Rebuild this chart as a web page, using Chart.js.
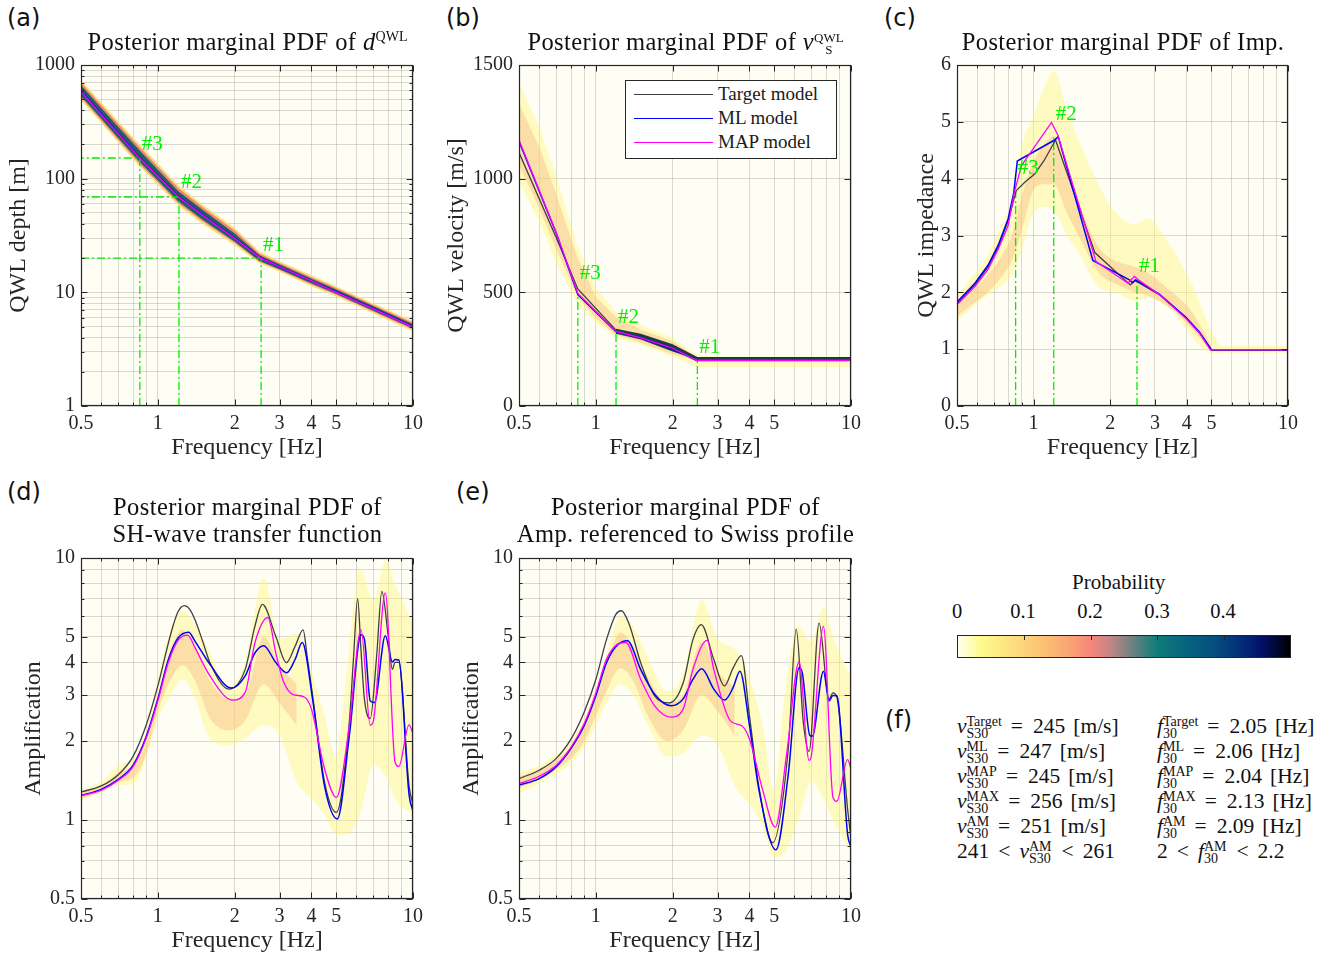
<!DOCTYPE html>
<html>
<head>
<meta charset="utf-8">
<script src="https://cdn.jsdelivr.net/npm/chart.js@4.4.1/dist/chart.umd.min.js"></script>
<style>
  body { margin: 0; width: 1336px; height: 959px; position: relative; overflow: hidden; background: #fff;
         font-family: 'Liberation Serif', serif; color: #1a1a1a; }
  canvas { position: absolute; }
  .lab { position: absolute; font: 24px 'DejaVu Sans', sans-serif; color: #111; line-height: 28px; }
  .ttl { position: absolute; font-size: 24.5px; letter-spacing: 0.4px; text-align: center; white-space: nowrap; line-height: 27px; color: #111; }
  .ttl sup { font-size: 14px; letter-spacing: 0; line-height: 0; }
  .st { display: inline-flex; flex-direction: column; font-size: 13px; line-height: 12px; vertical-align: middle; letter-spacing: 0; }
  .leg { position: absolute; left: 625px; top: 80px; width: 210px; height: 77px; border: 1px solid #262626; background: #fff; }
  .leg div { position: absolute; font-size: 19px; line-height: 24px; white-space: nowrap; }
  .leg span { position: absolute; left: 8px; width: 79px; height: 1.4px; }
  .ft { position: absolute; font-size: 21.5px; line-height: 25px; white-space: nowrap; color: #111; }
  .ft .st { font-size: 14px; line-height: 12px; margin-right: 1px; }
  .ft .eq { margin: 0 10px 0 8px; }
  .ft .lt { margin: 0 9px; }
  .ft .u { margin-left: 8px; }
  .cb { position: absolute; left: 957px; top: 635px; width: 332px; height: 21px; border: 1px solid #262626;
        background: linear-gradient(to right, #fffff0 0%, #fdfb8c 7%, #fde07f 16%, #fbc073 26%, #f9a273 34%, #f7857b 40%,
        #c48587 46%, #8c8484 50%, #3e807d 56%, #0e7c7a 60%, #07667e 68%, #054c7e 78%, #032a78 86%, #020e64 92%, #000 100%); }
  .cbt { position: absolute; top: 0; width: 1px; height: 4px; background: #262626; }
  .cbl { position: absolute; top: 599px; font-size: 20.5px; line-height: 24px; width: 40px; text-align: center; color: #111; }
</style>
</head>
<body>

<canvas id="pa" width="429" height="419" style="left:0px;top:47px"></canvas>
<canvas id="pb" width="429" height="419" style="left:438px;top:47px"></canvas>
<canvas id="pc" width="396" height="419" style="left:908px;top:47px"></canvas>
<canvas id="pd" width="414" height="419" style="left:15px;top:540px"></canvas>
<canvas id="pe" width="414" height="419" style="left:453px;top:540px"></canvas>

<div class="lab" style="left:7px;top:4px">(a)</div>
<div class="lab" style="left:446px;top:4px">(b)</div>
<div class="lab" style="left:884px;top:4px">(c)</div>
<div class="lab" style="left:7px;top:478px">(d)</div>
<div class="lab" style="left:456px;top:478px">(e)</div>
<div class="lab" style="left:885px;top:706px">(f)</div>

<div class="ttl" style="left:61px;width:373px;top:28px">Posterior marginal PDF of <i>d</i><sup>QWL</sup></div>
<div class="ttl" style="left:499px;width:373px;top:28px">Posterior marginal PDF of <i>v</i><span class="st"><span>QWL</span><span>S</span></span></div>
<div class="ttl" style="left:937px;width:372px;top:28px">Posterior marginal PDF of Imp.</div>
<div class="ttl" style="left:61px;width:373px;top:493px">Posterior marginal PDF of<br>SH-wave transfer function</div>
<div class="ttl" style="left:499px;width:373px;top:493px">Posterior marginal PDF of<br>Amp. referenced to Swiss profile</div>

<div class="leg">
  <span style="top:13px;background:#404040"></span><div style="left:92px;top:1px">Target model</div>
  <span style="top:37px;background:#0000ff"></span><div style="left:92px;top:25px">ML model</div>
  <span style="top:61px;background:#ff00ff"></span><div style="left:92px;top:49px">MAP model</div>
</div>

<div class="ft" style="left:1072px;top:570px;font-size:21px">Probability</div>
<div class="cbl" style="left:937px">0</div>
<div class="cbl" style="left:1003px">0.1</div>
<div class="cbl" style="left:1070px">0.2</div>
<div class="cbl" style="left:1137px">0.3</div>
<div class="cbl" style="left:1203px">0.4</div>
<div class="cb">
  <div class="cbt" style="left:66px"></div>
  <div class="cbt" style="left:133px"></div>
  <div class="cbt" style="left:199px"></div>
  <div class="cbt" style="left:266px"></div>
</div>

<div class="ft" style="left:957px;top:714px"><i>v</i><span class="st"><span>Target</span><span>S30</span></span><span class="eq">=</span>245<span class="u">[m/s]</span></div>
<div class="ft" style="left:957px;top:739px"><i>v</i><span class="st"><span>ML</span><span>S30</span></span><span class="eq">=</span>247<span class="u">[m/s]</span></div>
<div class="ft" style="left:957px;top:764px"><i>v</i><span class="st"><span>MAP</span><span>S30</span></span><span class="eq">=</span>245<span class="u">[m/s]</span></div>
<div class="ft" style="left:957px;top:789px"><i>v</i><span class="st"><span>MAX</span><span>S30</span></span><span class="eq">=</span>256<span class="u">[m/s]</span></div>
<div class="ft" style="left:957px;top:814px"><i>v</i><span class="st"><span>AM</span><span>S30</span></span><span class="eq">=</span>251<span class="u">[m/s]</span></div>
<div class="ft" style="left:957px;top:839px">241<span class="lt">&lt;</span><i>v</i><span class="st"><span>AM</span><span>S30</span></span><span class="lt">&lt;</span>261</div>
<div class="ft" style="left:1157px;top:714px"><i>f</i><span class="st"><span>Target</span><span>30</span></span><span class="eq">=</span>2.05<span class="u">[Hz]</span></div>
<div class="ft" style="left:1157px;top:739px"><i>f</i><span class="st"><span>ML</span><span>30</span></span><span class="eq">=</span>2.06<span class="u">[Hz]</span></div>
<div class="ft" style="left:1157px;top:764px"><i>f</i><span class="st"><span>MAP</span><span>30</span></span><span class="eq">=</span>2.04<span class="u">[Hz]</span></div>
<div class="ft" style="left:1157px;top:789px"><i>f</i><span class="st"><span>MAX</span><span>30</span></span><span class="eq">=</span>2.13<span class="u">[Hz]</span></div>
<div class="ft" style="left:1157px;top:814px"><i>f</i><span class="st"><span>AM</span><span>30</span></span><span class="eq">=</span>2.09<span class="u">[Hz]</span></div>
<div class="ft" style="left:1157px;top:839px">2<span class="lt">&lt;</span><i>f</i><span class="st"><span>AM</span><span>30</span></span><span class="lt">&lt;</span>2.2</div>

<script>
// ---- axis ticks ----
const freqTicks = [0.5, 0.6, 0.7, 0.8, 0.9, 1, 2, 3, 4, 5, 6, 7, 8, 9, 10];
const freqLabels = [0.5, 1, 2, 3, 4, 5, 10];
const depthTicks = [1, 2, 3, 4, 5, 6, 7, 8, 9, 10, 20, 30, 40, 50, 60, 70, 80, 90,
                    100, 200, 300, 400, 500, 600, 700, 800, 900, 1000];
const depthLabels = [1, 10, 100, 1000];
const ampTicks = [0.5, 0.6, 0.7, 0.8, 0.9, 1, 2, 3, 4, 5, 6, 7, 8, 9, 10];
const ampLabels = [0.5, 1, 2, 3, 4, 5, 10];

// ---- (a) QWL depth ----
const aFreq   = [0.5, 0.6, 0.7, 0.85, 1.0, 1.21, 1.5, 2.0, 2.54, 3, 4, 5, 7, 10];
const aTarget = [600, 375, 254, 154, 107, 70, 48.5, 30.2, 20.2, 16.9, 12.7, 10.1, 7.2, 5.0];
const aML     = [590, 370, 250, 152, 106, 69, 48, 30, 20, 16.8, 12.6, 10.1, 7.2, 5.0];
const aMAP    = [585, 366, 248, 151, 105, 68.5, 47.7, 29.8, 19.9, 16.8, 12.6, 10.0, 7.15, 4.95];
const aBandF  = [0.5, 0.6, 0.7, 0.85, 1.0, 1.2, 1.5, 2.0, 2.5, 3, 4, 5, 7, 10];
const aOutHi  = [740, 470, 320, 200, 136, 88, 59, 37, 23, 18.8, 14.1, 11.3, 8.0, 5.6];
const aOutLo  = [490, 310, 208, 127, 88, 58, 40, 26, 18, 15.2, 11.3, 9.2, 6.5, 4.55];
const aMidHi  = [700, 445, 303, 188, 128, 83, 56, 35, 22, 18.1, 13.6, 10.9, 7.75, 5.4];
const aMidLo  = [515, 325, 219, 134, 93, 61, 42, 27.3, 18.6, 15.7, 11.7, 9.5, 6.75, 4.7];
const aCoreHi = [665, 418, 285, 176, 120, 78, 53, 33, 21.2, 17.6, 13.2, 10.6, 7.55, 5.25];
const aCoreLo = [535, 338, 228, 140, 97, 63.5, 43.5, 28, 19, 16.0, 12.0, 9.7, 6.9, 4.8];
const aMarkF  = [0.85, 1.21, 2.54];
const aMarkD  = [152, 69, 20];

// ---- (b) QWL velocity ----
const bFreq   = [0.5, 0.7, 0.85, 1.2, 1.5, 2.0, 2.48, 10];
const bTarget = [1115, 740, 515, 333, 302, 255, 200, 200];
const bML     = [1165, 760, 490, 326, 300, 252, 201, 201];
const bMAP    = [1170, 762, 495, 328, 300, 254, 201, 201];
const bBandF  = [0.5, 0.6, 0.7, 0.85, 1.0, 1.2, 1.5, 2.0, 2.5, 3, 5, 10];
const bYelHi  = [1420, 1230, 1010, 700, 520, 415, 355, 300, 225, 218, 218, 218];
const bYelLo  = [990, 810, 630, 445, 365, 300, 268, 218, 170, 170, 170, 170];
const bSalHi  = [1330, 1140, 930, 650, 480, 390, 335, 285, 214, 212, 212, 212];
const bSalLo  = [1060, 870, 690, 480, 385, 312, 278, 228, 198, 198, 198, 198];
const bCoreF  = [1.2, 1.5, 2.0, 2.5, 3, 10];
const bCoreHi = [340, 318, 272, 216, 216, 216];
const bCoreLo = [318, 292, 240, 203, 203, 203];
const bMarkF  = [0.85, 1.2, 2.5];
const bMarkV  = [495, 328, 200];

// ---- (c) QWL impedance ----
const cTargetF = [0.5, 0.588, 0.663, 0.726, 0.794, 0.855, 0.93, 1.01, 1.1, 1.22, 1.74, 2.40, 2.50, 3.12, 3.97, 4.49, 5.0, 10];
const cTarget  = [1.80, 2.13, 2.45, 2.80, 3.26, 3.79, 3.95, 4.08, 4.32, 4.68, 2.70, 2.13, 2.21, 1.96, 1.55, 1.29, 0.98, 0.98];
const cMLF     = [0.5, 0.588, 0.663, 0.726, 0.794, 0.836, 0.863, 1.21, 1.25, 1.71, 1.85, 2.38, 2.45, 2.52, 3.12, 3.97, 4.49, 5.0, 10];
const cML      = [1.83, 2.16, 2.48, 2.83, 3.29, 3.76, 4.31, 4.68, 4.74, 2.56, 2.48, 2.22, 2.17, 2.22, 1.97, 1.56, 1.30, 0.99, 0.99];
const cMAPF    = [0.5, 0.588, 0.663, 0.726, 0.794, 0.84, 0.896, 1.176, 1.245, 1.76, 2.35, 2.49, 2.58, 3.12, 3.97, 4.49, 4.95, 10];
const cMAP     = [1.78, 2.10, 2.41, 2.76, 3.17, 3.76, 4.23, 4.99, 4.77, 2.54, 2.16, 2.28, 2.22, 1.96, 1.54, 1.28, 0.99, 0.99];
const cBandF   = [0.5, 0.58, 0.66, 0.74, 0.82, 0.9, 1.0, 1.1, 1.2, 1.35, 1.5, 1.8, 2.1, 2.5, 2.8, 3.5, 4.2, 5.0, 5.5, 10];
const cYelHi   = [1.95, 2.3, 2.65, 3.15, 3.6, 4.6, 5.1, 5.6, 5.9, 5.2, 4.7, 3.9, 3.4, 3.2, 3.3, 2.77, 2.14, 1.32, 1.06, 1.06];
const cYelLo   = [1.5, 1.75, 1.95, 2.1, 2.3, 2.75, 3.4, 3.5, 3.45, 3.0, 2.7, 2.1, 2.0, 1.85, 1.9, 1.67, 1.21, 0.93, 0.93, 0.93];
const cSalF    = [0.5, 0.58, 0.66, 0.74, 0.82, 0.9, 1.0, 1.1, 1.2, 1.35, 1.5, 1.8, 2.1, 2.5, 2.8, 3.5, 4.2, 5.0];
const cSalHi   = [1.82, 2.05, 2.3, 2.6, 3.0, 3.7, 4.3, 4.6, 4.75, 4.2, 3.6, 2.8, 2.55, 2.45, 2.35, 2.0, 1.65, 1.05];
const cSalLo   = [1.58, 1.8, 2.0, 2.25, 2.55, 3.1, 3.8, 3.9, 3.9, 3.4, 3.0, 2.35, 2.15, 2.0, 1.95, 1.7, 1.35, 0.97];
const cMarkF   = [0.85, 1.2, 2.55];
const cMarkI   = [3.78, 4.72, 2.22];

// ---- (d) SH-wave transfer function ----
const dTargetF = [0.5, 0.6, 0.7, 0.8, 0.9, 1.0, 1.1, 1.15, 1.2, 1.27, 1.33, 1.4, 1.5, 1.6, 1.9, 2.2, 2.4, 2.57, 2.9, 3.19, 3.45, 3.71, 3.85, 4.04, 4.5, 5.01, 5.63, 5.85, 6.07, 6.25, 6.45, 6.8, 7.2, 7.55, 8.0, 8.3, 8.5, 8.8, 9.65, 10];
const dTarget  = [1.28, 1.35, 1.49, 1.75, 2.30, 3.25, 4.74, 5.55, 6.24, 6.58, 6.4, 5.8, 4.8, 3.99, 3.16, 3.76, 5.48, 6.65, 5.02, 3.99, 4.6, 5.32, 4.2, 2.99, 1.40, 1.07, 2.37, 4.2, 7.0, 4.5, 2.9, 2.44, 4.2, 7.46, 5.0, 3.76, 4.0, 4.0, 1.35, 1.15];
const dMLF     = [0.5, 0.6, 0.7, 0.8, 0.9, 1.0, 1.1, 1.2, 1.32, 1.4, 1.6, 1.94, 2.2, 2.4, 2.6, 2.9, 3.2, 3.45, 3.68, 4.04, 4.5, 5.05, 5.63, 6.26, 6.45, 6.8, 7.06, 7.79, 8.3, 8.5, 8.8, 9.65, 10];
const dML      = [1.24, 1.31, 1.43, 1.62, 2.08, 2.9, 4.10, 4.95, 5.21, 4.81, 3.93, 3.19, 3.55, 4.34, 4.63, 3.99, 3.65, 4.1, 4.76, 2.9, 1.35, 1.01, 2.1, 5.09, 4.9, 2.85, 2.81, 5.05, 4.01, 4.1, 4.08, 1.25, 1.08];
const dMAPF    = [0.5, 0.6, 0.7, 0.8, 0.9, 1.0, 1.1, 1.2, 1.31, 1.4, 1.6, 1.96, 2.2, 2.4, 2.7, 2.9, 3.1, 3.37, 3.75, 4.0, 4.5, 5.01, 5.6, 6.26, 6.8, 7.0, 7.79, 8.5, 8.8, 9.65, 10];
const dMAP     = [1.24, 1.30, 1.42, 1.60, 2.05, 2.85, 4.0, 4.85, 5.08, 4.54, 3.55, 2.87, 3.07, 4.74, 5.93, 4.34, 3.4, 3.02, 2.95, 2.65, 1.57, 1.22, 2.2, 5.32, 2.30, 2.40, 7.36, 1.67, 1.60, 2.31, 2.14];
const ampBandF = [0.5, 0.6, 0.7, 0.8, 0.9, 1.0, 1.1, 1.25, 1.4, 1.6, 1.9, 2.2, 2.6, 3.0, 3.5, 4.0, 4.5, 5.0, 5.5, 6.2, 7.0, 7.8, 8.5, 10];
const dYelHi   = [1.31, 1.40, 1.62, 1.72, 2.2, 3.44, 5.0, 6.3, 5.6, 4.34, 3.26, 3.99, 8.4, 4.88, 5.16, 3.75, 2.5, 1.72, 3.75, 9.2, 6.9, 9.8, 8.0, 5.6];
const dYelLo   = [1.19, 1.27, 1.36, 1.37, 1.72, 2.43, 2.9, 3.44, 2.9, 2.05, 1.93, 2.05, 2.3, 2.11, 1.40, 1.21, 1.05, 0.88, 0.88, 1.05, 1.62, 1.48, 1.21, 1.05];
const ampSalF  = [0.5, 0.6, 0.7, 0.8, 0.9, 1.0, 1.1, 1.25, 1.4, 1.6, 1.9, 2.2, 2.6, 3.0, 3.5];
const dSalHi   = [1.28, 1.35, 1.52, 1.62, 1.95, 2.9, 4.2, 5.3, 4.6, 3.4, 2.9, 3.0, 5.0, 3.9, 3.3];
const dSalLo   = [1.21, 1.28, 1.4, 1.45, 1.78, 2.6, 3.3, 3.9, 3.4, 2.45, 2.2, 2.4, 3.3, 2.8, 2.3];

// ---- (e) amplification referenced to Swiss profile ----
const eTargetF = [0.5, 0.6, 0.7, 0.8, 0.9, 1.0, 1.1, 1.2, 1.26, 1.35, 1.5, 1.7, 1.94, 2.2, 2.4, 2.59, 2.9, 3.19, 3.45, 3.72, 4.0, 4.36, 4.93, 5.68, 6.1, 6.5, 6.85, 7.5, 8.2, 8.5, 8.8, 9.7, 10];
const eTarget  = [1.44, 1.55, 1.72, 2.04, 2.58, 3.44, 4.87, 6.11, 6.29, 5.6, 3.98, 2.98, 2.80, 3.34, 4.87, 5.57, 4.10, 3.25, 3.8, 4.24, 2.5, 1.33, 0.82, 1.88, 5.35, 2.37, 1.83, 5.64, 2.89, 3.06, 2.95, 1.1, 0.85];
const eMLF     = [0.5, 0.6, 0.7, 0.8, 0.9, 1.0, 1.1, 1.2, 1.33, 1.5, 1.7, 1.97, 2.2, 2.4, 2.6, 2.9, 3.2, 3.45, 3.67, 4.0, 4.36, 5.08, 5.68, 6.26, 6.45, 6.9, 7.05, 7.8, 8.2, 8.5, 8.8, 9.7, 10];
const eML      = [1.36, 1.44, 1.60, 1.88, 2.29, 2.98, 3.98, 4.6, 4.83, 3.75, 3.02, 2.73, 2.90, 3.44, 3.78, 3.16, 2.87, 3.2, 3.70, 2.3, 1.3, 0.77, 1.5, 3.81, 3.63, 2.10, 2.09, 3.70, 2.85, 2.99, 2.98, 0.88, 0.79];
const eMAPF    = [0.5, 0.6, 0.7, 0.8, 0.9, 1.0, 1.1, 1.2, 1.31, 1.5, 1.7, 1.97, 2.2, 2.4, 2.73, 2.9, 3.37, 3.73, 4.0, 4.5, 5.05, 5.6, 6.26, 6.85, 7.0, 7.8, 8.5, 8.8, 9.7, 10];
const eMAP     = [1.38, 1.47, 1.62, 1.90, 2.33, 3.05, 4.10, 4.65, 4.76, 3.44, 2.73, 2.47, 2.65, 3.75, 4.85, 3.75, 2.39, 2.29, 2.04, 1.31, 0.94, 1.8, 4.01, 1.69, 1.77, 5.48, 1.22, 1.18, 1.70, 1.57];
const eYelHi   = [1.52, 1.62, 1.78, 2.0, 2.45, 3.2, 4.3, 6.0, 5.5, 4.2, 3.1, 3.6, 6.9, 4.9, 4.5, 3.5, 2.3, 1.3, 3.0, 5.5, 4.8, 6.5, 5.0, 3.5];
const eYelLo   = [1.26, 1.38, 1.5, 1.65, 1.9, 2.3, 2.8, 3.3, 3.0, 2.3, 1.75, 1.8, 2.1, 1.95, 1.35, 1.15, 0.95, 0.72, 0.75, 1.0, 1.4, 1.2, 1.0, 0.75];
const eSalHi   = [1.47, 1.56, 1.7, 1.9, 2.3, 3.0, 3.9, 5.2, 4.6, 3.5, 2.8, 3.0, 4.8, 3.7, 3.2];
const eSalLo   = [1.32, 1.43, 1.56, 1.72, 2.0, 2.5, 3.1, 3.8, 3.4, 2.5, 2.0, 2.2, 3.0, 2.6, 2.1];

// ---- styling ----
const FONT = "'Liberation Serif', serif";
const INK = '#262626';
const GRID = 'rgba(0,0,0,0.14)';
const BG = '#fffef4';
const LIME = '#00ee00';
const C_TARGET = '#404040', C_ML = '#0000ff', C_MAP = '#ff00ff';
const YEL = 'rgba(255,245,120,0.42)';
const SAL = 'rgba(247,175,125,0.38)';

const pts = (xs, ys) => xs.map((x, i) => ({x: x, y: ys[i]}));

function band(xs, hi, lo, color, order, smooth) {
  const mode = smooth ? 'monotone' : 'default';
  return [
    {data: pts(xs, hi), fill: '+1', backgroundColor: color, borderWidth: 0, pointRadius: 0, order: order, cubicInterpolationMode: mode},
    {data: pts(xs, lo), fill: false, borderWidth: 0, pointRadius: 0, order: order, cubicInterpolationMode: mode}
  ];
}
function line(xs, ys, color, w, order, smooth) {
  return {data: pts(xs, ys), borderColor: color, borderWidth: w, pointRadius: 0, fill: false,
          tension: 0, cubicInterpolationMode: smooth ? 'monotone' : 'default', order: order};
}
function guides(xs, ys, yBase, xLeft) {
  const d = [];
  xs.forEach((x, i) => {
    d.push({x: x, y: yBase}, {x: x, y: ys[i]});
    if (xLeft !== null) d.push({x: xLeft, y: ys[i]});
    d.push({x: x, y: null});
  });
  return {data: d, borderColor: LIME, borderWidth: 1.3, borderDash: [8, 3, 2, 3], pointRadius: 0,
          fill: false, spanGaps: false, order: 4};
}
function models(tf, t, mf, m, pf, p, smooth) {
  return [line(tf, t, C_TARGET, 1.3, 3, smooth), line(mf, m, C_ML, 1.5, 2, smooth), line(pf, p, C_MAP, 1.3, 1, smooth)];
}

const framePlugin = {
  id: 'frame',
  beforeDraw(chart) {
    const {ctx, chartArea: a} = chart;
    ctx.save();
    ctx.fillStyle = BG;
    ctx.fillRect(a.left, a.top, a.right - a.left, a.bottom - a.top);
    ctx.restore();
  },
  afterDraw(chart) {
    const {ctx, chartArea: a, scales} = chart;
    const L = Math.round(a.left) + 0.5, R = Math.round(a.right) - 0.5;
    const T = Math.round(a.top) + 0.5, B = Math.round(a.bottom) - 0.5;
    ctx.save();
    ctx.strokeStyle = INK;
    ctx.lineWidth = 1;
    ctx.beginPath();
    scales.x.ticks.forEach(t => {
      const p = Math.round(scales.x.getPixelForValue(t.value)) + 0.5;
      const len = t.label ? 6 : 3;
      ctx.moveTo(p, B); ctx.lineTo(p, B - len);
      ctx.moveTo(p, T); ctx.lineTo(p, T + len);
    });
    scales.y.ticks.forEach(t => {
      const p = Math.round(scales.y.getPixelForValue(t.value)) + 0.5;
      const len = t.label ? 6 : 3;
      ctx.moveTo(L, p); ctx.lineTo(L + len, p);
      ctx.moveTo(R, p); ctx.lineTo(R - len, p);
    });
    ctx.stroke();
    ctx.lineWidth = 1.2;
    ctx.strokeRect(L, T, R - L, B - T);
    ctx.restore();
  }
};

const marksPlugin = {
  id: 'marks',
  afterDatasetsDraw(chart, args, o) {
    if (!o || !o.xs) return;
    const {ctx, scales: {x, y}} = chart;
    ctx.save();
    ctx.fillStyle = LIME;
    ctx.font = '21px ' + FONT;
    ctx.textBaseline = 'middle';
    o.xs.forEach((v, i) => {
      ctx.fillText(o.names[i], x.getPixelForValue(v) + 2, y.getPixelForValue(o.ys[i]) + o.dy[i]);
    });
    ctx.restore();
  }
};

function axisTitle(text) {
  return {display: true, text: text, color: INK, font: {family: FONT, size: 24}, padding: {top: 4, bottom: 4}};
}
function logAxis(min, max, list, labels, title, yW) {
  return {
    type: 'logarithmic', min: min, max: max, z: 1,
    afterBuildTicks: s => { s.ticks = list.map(v => ({value: v})); },
    afterFit: s => { s.width = yW; },
    ticks: {autoSkip: false, padding: 6, color: INK, font: {family: FONT, size: 20},
            callback: v => labels.includes(v) ? String(v) : ''},
    grid: {color: GRID, drawTicks: false}, border: {display: false},
    title: axisTitle(title)
  };
}
function linAxis(min, max, step, title, yW) {
  return {
    type: 'linear', min: min, max: max, z: 1,
    afterFit: s => { s.width = yW; },
    ticks: {stepSize: step, padding: 6, color: INK, font: {family: FONT, size: 20}, callback: v => String(v)},
    grid: {color: GRID, drawTicks: false}, border: {display: false},
    title: axisTitle(title)
  };
}

function makeChart(id, datasets, yAxis, marks) {
  return new Chart(document.getElementById(id), {
    type: 'line',
    data: {datasets: datasets},
    options: {
      responsive: false, animation: false, events: [],
      layout: {padding: {left: 0, top: 14, right: 15, bottom: 0}},
      plugins: {legend: {display: false}, tooltip: {enabled: false}, marks: marks || {}},
      scales: {
        x: {
          type: 'logarithmic', min: 0.5, max: 10, z: 1,
          afterBuildTicks: s => { s.ticks = freqTicks.map(v => ({value: v})); },
          afterFit: s => { s.height = 60; },
          ticks: {autoSkip: false, maxRotation: 0, padding: 6, color: INK, font: {family: FONT, size: 20},
                  callback: v => freqLabels.includes(v) ? String(v) : ''},
          grid: {color: GRID, drawTicks: false}, border: {display: false},
          title: axisTitle('Frequency [Hz]')
        },
        y: yAxis
      }
    },
    plugins: [framePlugin, marksPlugin]
  });
}

const names = ['#3', '#2', '#1'];

makeChart('pa', [
  ...band(aBandF, aOutHi, aOutLo, '#fde07c', 30),
  ...band(aBandF, aMidHi, aMidLo, '#ec8677', 20),
  ...band(aBandF, aCoreHi, aCoreLo, '#1c5f68', 10),
  guides(aMarkF, aMarkD, 1, 0.5),
  ...models(aFreq, aTarget, aFreq, aML, aFreq, aMAP)
], logAxis(1, 1000, depthTicks, depthLabels, 'QWL depth [m]', 81),
  {xs: aMarkF, ys: aMarkD, names: names, dy: [-14, -14, -13]});

makeChart('pb', [
  ...band(bBandF, bYelHi, bYelLo, YEL, 30),
  ...band(bBandF, bSalHi, bSalLo, SAL, 20),
  ...band(bCoreF, bCoreHi, bCoreLo, '#183c44', 10),
  guides(bMarkF, bMarkV, 0, null),
  ...models(bFreq, bTarget, bFreq, bML, bFreq, bMAP)
], linAxis(0, 1500, 500, 'QWL velocity [m/s]', 81),
  {xs: bMarkF, ys: bMarkV, names: names, dy: [-20, -14, -13]});

makeChart('pc', [
  ...band(cBandF, cYelHi, cYelLo, YEL, 30, true),
  ...band(cSalF, cSalHi, cSalLo, SAL, 20, true),
  guides(cMarkF, cMarkI, 0, null),
  ...models(cTargetF, cTarget, cMLF, cML, cMAPF, cMAP)
], linAxis(0, 6, 1, 'QWL impedance', 49),
  {xs: cMarkF, ys: cMarkI, names: names, dy: [-23, -23, -13]});

makeChart('pd', [
  ...band(ampBandF, dYelHi, dYelLo, YEL, 30, true),
  ...band(ampSalF, dSalHi, dSalLo, SAL, 20, true),
  ...models(dTargetF, dTarget, dMLF, dML, dMAPF, dMAP, true)
], logAxis(0.5, 10, ampTicks, ampLabels, 'Amplification', 66));

makeChart('pe', [
  ...band(ampBandF, eYelHi, eYelLo, YEL, 30, true),
  ...band(ampSalF, eSalHi, eSalLo, SAL, 20, true),
  ...models(eTargetF, eTarget, eMLF, eML, eMAPF, eMAP, true)
], logAxis(0.5, 10, ampTicks, ampLabels, 'Amplification', 66));
</script>
</body>
</html>
